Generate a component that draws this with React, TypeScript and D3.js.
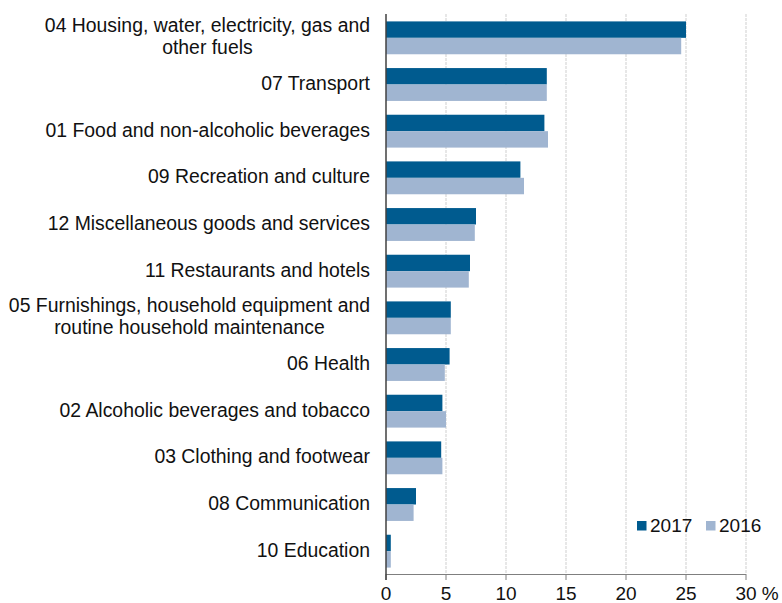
import React from 'react';
import * as d3 from 'd3';

const categories = [
  '04 Housing, water, electricity, gas and\nother fuels',
  '07 Transport',
  '01 Food and non-alcoholic beverages',
  '09 Recreation and culture',
  '12 Miscellaneous goods and services',
  '11 Restaurants and hotels',
  '05 Furnishings, household equipment and\nroutine household maintenance',
  '06 Health',
  '02 Alcoholic beverages and tobacco',
  '03 Clothing and footwear',
  '08 Communication',
  '10 Education',
];
const seriesNames = ['2017', '2016'];
const values2017 = [25.0, 13.4, 13.2, 11.2, 7.5, 7.0, 5.4, 5.3, 4.7, 4.6, 2.5, 0.4];
const values2016 = [24.6, 13.4, 13.5, 11.5, 7.4, 6.9, 5.4, 4.9, 5.0, 4.7, 2.3, 0.4];
const tickValues = [0, 5, 10, 15, 20, 25, 30];
const tickLabels = ['0', '5', '10', '15', '20', '25', '30'];
const unitLabel = '%';

const W = 782;
const H = 603;
const FONT = "'Liberation Sans', Arial, sans-serif";
const FS = 19;
const CFS = 19.4;
const colors = ['#005b8f', '#a0b5d1'];

function measure(text: string, size: number): number {
  const c = document.createElement('canvas').getContext('2d');
  if (!c) return text.length * size * 0.5;
  c.font = `${size}px 'Liberation Sans', Arial, sans-serif`;
  return c.measureText(text).width;
}

export default function App() {
  const x = d3.scaleLinear().domain([0, 30]).range([386, 746]);
  const y = d3.scaleBand<string>().domain(categories).range([14, 574]).paddingInner(0).paddingOuter(0);
  const sub = d3.scaleBand<string>().domain(seriesNames).range([0, y.bandwidth()]).paddingInner(0).paddingOuter(0.42);
  const seriesVals = [values2017, values2016];
  const labelRight = 370;
  const lineH = 21.7;

  return (
    <svg width={W} height={H} style={{ position: 'absolute', left: 0, top: 0, background: '#fff' }}
      fontFamily={FONT}>
      <rect x={0} y={0} width={W} height={H} fill="#fff" />
      {/* gridlines */}
      {tickValues.slice(1).map((t) => (
        <line key={'g' + t} x1={x(t)} x2={x(t)} y1={14} y2={574}
          stroke="#cfcfcf" strokeWidth={1} strokeDasharray="3,1" />
      ))}
      {/* bars */}
      {categories.map((c, i) => (
        <g key={c} transform={`translate(0,${y(c)})`}>
          {seriesNames.map((s, j) => (
            <rect key={s} x={x(0)} y={(sub(s) as number) + 0.5} width={x(seriesVals[j][i]) - x(0)}
              height={sub.bandwidth()} fill={colors[j]} />
          ))}
        </g>
      ))}
      {/* axes */}
      <line x1={x(0)} x2={x(30)} y1={574.5} y2={574.5} stroke="#7f7f7f" strokeWidth={1} />
      {tickValues.map((t) => (
        <line key={'t' + t} x1={x(t)} x2={x(t)} y1={574} y2={580} stroke="#7f7f7f" strokeWidth={1} />
      ))}
      <line x1={x(0)} x2={x(0)} y1={14} y2={580} stroke="#404040" strokeWidth={1.5} />
      {/* tick labels */}
      {tickValues.map((t, i) => {
        const last = i === tickValues.length - 1;
        if (last) {
          const w = measure(tickLabels[i], FS);
          return (
            <text key={'l' + t} x={x(t) - w / 2} y={600} fontSize={FS} fill="#111">
              {tickLabels[i] + ' ' + unitLabel}
            </text>
          );
        }
        return (
          <text key={'l' + t} x={x(t)} y={600} fontSize={FS} fill="#111" textAnchor="middle">
            {tickLabels[i]}
          </text>
        );
      })}
      {/* category labels */}
      {categories.map((c) => {
        const lines = c.split('\n');
        const cy = (y(c) as number) + y.bandwidth() / 2 - 1;
        const maxW = Math.max(...lines.map((l) => measure(l, CFS)));
        const cx = labelRight - maxW / 2;
        const firstBase = cy - ((lines.length - 1) * lineH) / 2 + 6.9;
        return (
          <g key={'c' + c}>
            {lines.map((ln, k) => (
              <text key={k} x={lines.length > 1 ? cx : labelRight} y={firstBase + k * lineH}
                fontSize={CFS} fill="#111" textAnchor={lines.length > 1 ? 'middle' : 'end'}>
                {ln}
              </text>
            ))}
          </g>
        );
      })}
      {/* legend */}
      <g>
        <rect x={637} y={521} width={9.5} height={9.5} fill={colors[0]} />
        <text x={650} y={531.7} fontSize={FS} fill="#111">{seriesNames[0]}</text>
        <rect x={706} y={521} width={9.5} height={9.5} fill={colors[1]} />
        <text x={719} y={531.7} fontSize={FS} fill="#111">{seriesNames[1]}</text>
      </g>
    </svg>
  );
}
